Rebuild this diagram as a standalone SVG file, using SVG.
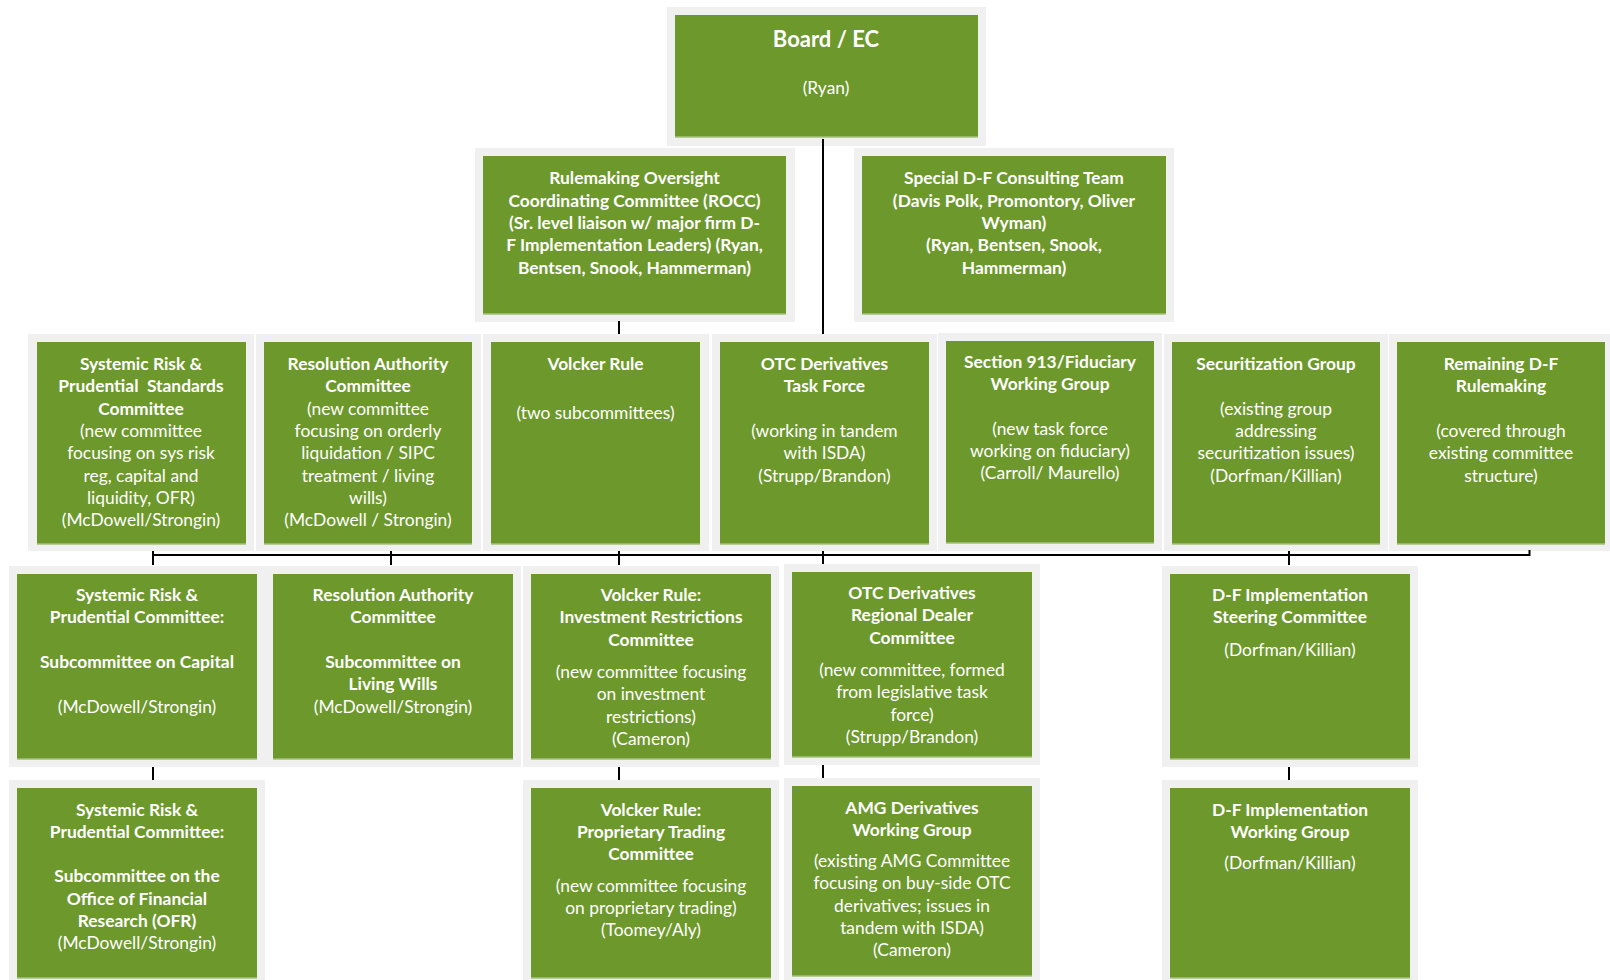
<svg xmlns="http://www.w3.org/2000/svg" width="1610" height="980" viewBox="0 0 1610 980">
<style>
.bg{fill:#f0f0f0}
.box{fill:#6d982c}
.edge{stroke:#a4c27a;stroke-width:1.5}
text{fill:#ffffff;font-family:Lato,"Open Sans","Liberation Sans",sans-serif;font-size:17.4px;text-anchor:middle}
.b{font-weight:bold}
.t{font-size:22px;font-weight:bold}
.c{stroke:#000000;stroke-width:2;fill:none}
</style>
<rect width="1610" height="980" fill="#ffffff"/>

<g id="board">
<rect class="bg" x="667" y="7" width="319" height="139"/>
<rect class="box" x="675" y="15" width="303" height="122"/>
<line class="edge" x1="675" y1="137" x2="978" y2="137"/>
<text class="t" x="826" y="47">Board / EC</text>
<text x="826" y="93.5">(Ryan)</text>
</g>

<g id="rocc">
<rect class="bg" x="475" y="148" width="320" height="174"/>
<rect class="box" x="483" y="156" width="303" height="158"/>
<line class="edge" x1="483" y1="314" x2="786" y2="314"/>
<text class="b" x="634.5" y="184">Rulemaking Oversight</text>
<text class="b" x="634.5" y="206.5">Coordinating Committee (ROCC)</text>
<text class="b" x="634.5" y="229">(Sr. level liaison w/ major firm D-</text>
<text class="b" x="634.5" y="251">F Implementation Leaders) (Ryan,</text>
<text class="b" x="634.5" y="273.5">Bentsen, Snook, Hammerman)</text>
</g>

<g id="special">
<rect class="bg" x="854" y="148" width="320" height="174"/>
<rect class="box" x="862" y="156" width="304" height="158"/>
<line class="edge" x1="862" y1="314" x2="1166" y2="314"/>
<text class="b" x="1014" y="184">Special D-F Consulting Team</text>
<text class="b" x="1014" y="206.5">(Davis Polk, Promontory, Oliver</text>
<text class="b" x="1014" y="229">Wyman)</text>
<text class="b" x="1014" y="251">(Ryan, Bentsen, Snook,</text>
<text class="b" x="1014" y="273.5">Hammerman)</text>
</g>

<g id="systemic">
<rect class="bg" x="28" y="334" width="226" height="217"/>
<rect class="box" x="37" y="342" width="209" height="202"/>
<line class="edge" x1="37" y1="544" x2="246" y2="544"/>
<text class="b" x="141" y="370">Systemic Risk &amp;</text>
<text class="b" x="141" y="392.3" xml:space="preserve">Prudential  Standards</text>
<text class="b" x="141" y="414.6">Committee</text>
<text x="141" y="436.9">(new committee</text>
<text x="141" y="459.2">focusing on sys risk</text>
<text x="141" y="481.5">reg, capital and</text>
<text x="141" y="503.8">liquidity, OFR)</text>
<text x="141" y="526.1">(McDowell/Strongin)</text>
</g>

<g id="resolution">
<rect class="bg" x="256" y="334" width="225" height="217"/>
<rect class="box" x="264" y="342" width="208" height="202"/>
<line class="edge" x1="264" y1="544" x2="472" y2="544"/>
<text class="b" x="368" y="370">Resolution Authority</text>
<text class="b" x="368" y="392.3">Committee</text>
<text x="368" y="414.6">(new committee</text>
<text x="368" y="436.9">focusing on orderly</text>
<text x="368" y="459.2">liquidation / SIPC</text>
<text x="368" y="481.5">treatment / living</text>
<text x="368" y="503.8">wills)</text>
<text x="368" y="526.1">(McDowell / Strongin)</text>
</g>

<g id="volcker">
<rect class="bg" x="483" y="334" width="226" height="217"/>
<rect class="box" x="491" y="342" width="209" height="202"/>
<line class="edge" x1="491" y1="544" x2="700" y2="544"/>
<text class="b" x="595.5" y="370">Volcker Rule</text>
<text x="595.5" y="419.3">(two subcommittees)</text>
</g>

<g id="otc">
<rect class="bg" x="712" y="334" width="225" height="217"/>
<rect class="box" x="720" y="342" width="209" height="202"/>
<line class="edge" x1="720" y1="544" x2="929" y2="544"/>
<text class="b" x="824.5" y="370">OTC Derivatives</text>
<text class="b" x="824.5" y="392.3">Task Force</text>
<text x="824.5" y="436.9">(working in tandem</text>
<text x="824.5" y="459.2">with ISDA)</text>
<text x="824.5" y="481.5">(Strupp/Brandon)</text>
</g>

<g id="section913">
<rect class="bg" x="938" y="333" width="224" height="218"/>
<rect class="box" x="946" y="341" width="208" height="202"/>
<line class="edge" x1="946" y1="543" x2="1154" y2="543"/>
<text class="b" x="1050" y="367.9">Section 913/Fiduciary</text>
<text class="b" x="1050" y="390.2">Working Group</text>
<text x="1050" y="434.5">(new task force</text>
<text x="1050" y="456.8">working on fiduciary)</text>
<text x="1050" y="479.1">(Carroll/ Maurello)</text>
</g>

<g id="securitization">
<rect class="bg" x="1164" y="334" width="224" height="217"/>
<rect class="box" x="1172" y="342" width="208" height="202"/>
<line class="edge" x1="1172" y1="544" x2="1380" y2="544"/>
<text class="b" x="1276" y="370">Securitization Group</text>
<text x="1276" y="414.6">(existing group</text>
<text x="1276" y="436.9">addressing</text>
<text x="1276" y="459.2">securitization issues)</text>
<text x="1276" y="481.5">(Dorfman/Killian)</text>
</g>

<g id="remaining">
<rect class="bg" x="1389" y="334" width="221" height="217"/>
<rect class="box" x="1397" y="342" width="208" height="202"/>
<line class="edge" x1="1397" y1="544" x2="1605" y2="544"/>
<text class="b" x="1501" y="370">Remaining D-F</text>
<text class="b" x="1501" y="392.3">Rulemaking</text>
<text x="1501" y="436.9">(covered through</text>
<text x="1501" y="459.2">existing committee</text>
<text x="1501" y="481.5">structure)</text>
</g>

<g id="systemic-capital">
<rect class="bg" x="9" y="566" width="256" height="201"/>
<rect class="box" x="17" y="574" width="240" height="185"/>
<line class="edge" x1="17" y1="759" x2="257" y2="759"/>
<text class="b" x="137" y="601">Systemic Risk &amp;</text>
<text class="b" x="137" y="623.3">Prudential Committee:</text>
<text class="b" x="137" y="667.9">Subcommittee on Capital</text>
<text x="137" y="712.5">(McDowell/Strongin)</text>
</g>

<g id="resolution-living-wills">
<rect class="bg" x="265" y="566" width="256" height="201"/>
<rect class="box" x="273" y="574" width="240" height="185"/>
<line class="edge" x1="273" y1="759" x2="513" y2="759"/>
<text class="b" x="393" y="601">Resolution Authority</text>
<text class="b" x="393" y="623.3">Committee</text>
<text class="b" x="393" y="667.9">Subcommittee on</text>
<text class="b" x="393" y="690.2">Living Wills</text>
<text x="393" y="712.5">(McDowell/Strongin)</text>
</g>

<g id="volcker-investment">
<rect class="bg" x="523" y="566" width="256" height="201"/>
<rect class="box" x="531" y="574" width="240" height="185"/>
<line class="edge" x1="531" y1="759" x2="771" y2="759"/>
<text class="b" x="651" y="601">Volcker Rule:</text>
<text class="b" x="651" y="623.3">Investment Restrictions</text>
<text class="b" x="651" y="645.6">Committee</text>
<text x="651" y="678">(new committee focusing</text>
<text x="651" y="700.3">on investment</text>
<text x="651" y="722.6">restrictions)</text>
<text x="651" y="744.9">(Cameron)</text>
</g>

<g id="otc-regional">
<rect class="bg" x="784" y="564" width="256" height="201"/>
<rect class="box" x="792" y="572" width="240" height="185"/>
<line class="edge" x1="792" y1="757" x2="1032" y2="757"/>
<text class="b" x="912" y="599">OTC Derivatives</text>
<text class="b" x="912" y="621.3">Regional Dealer</text>
<text class="b" x="912" y="643.6">Committee</text>
<text x="912" y="676">(new committee, formed</text>
<text x="912" y="698.3">from legislative task</text>
<text x="912" y="720.6">force)</text>
<text x="912" y="742.9">(Strupp/Brandon)</text>
</g>

<g id="df-steering">
<rect class="bg" x="1162" y="566" width="256" height="201"/>
<rect class="box" x="1170" y="574" width="240" height="185"/>
<line class="edge" x1="1170" y1="759" x2="1410" y2="759"/>
<text class="b" x="1290" y="601">D-F Implementation</text>
<text class="b" x="1290" y="623.3">Steering Committee</text>
<text x="1290" y="655.5">(Dorfman/Killian)</text>
</g>

<g id="systemic-ofr">
<rect class="bg" x="9" y="780" width="256" height="200"/>
<rect class="box" x="17" y="788" width="240" height="190"/>
<line class="edge" x1="17" y1="978" x2="257" y2="978"/>
<text class="b" x="137" y="815.5">Systemic Risk &amp;</text>
<text class="b" x="137" y="837.8">Prudential Committee:</text>
<text class="b" x="137" y="882.4">Subcommittee on the</text>
<text class="b" x="137" y="904.7">Office of Financial</text>
<text class="b" x="137" y="927">Research (OFR)</text>
<text x="137" y="949.3">(McDowell/Strongin)</text>
</g>

<g id="volcker-proprietary">
<rect class="bg" x="523" y="780" width="256" height="200"/>
<rect class="box" x="531" y="788" width="240" height="190"/>
<line class="edge" x1="531" y1="978" x2="771" y2="978"/>
<text class="b" x="651" y="815.5">Volcker Rule:</text>
<text class="b" x="651" y="837.8">Proprietary Trading</text>
<text class="b" x="651" y="860.1">Committee</text>
<text x="651" y="891.5">(new committee focusing</text>
<text x="651" y="913.8">on proprietary trading)</text>
<text x="651" y="936.1">(Toomey/Aly)</text>
</g>

<g id="amg">
<rect class="bg" x="784" y="778" width="256" height="202"/>
<rect class="box" x="792" y="786" width="240" height="190"/>
<line class="edge" x1="792" y1="976" x2="1032" y2="976"/>
<text class="b" x="912" y="813.5">AMG Derivatives</text>
<text class="b" x="912" y="835.8">Working Group</text>
<text x="912" y="867">(existing AMG Committee</text>
<text x="912" y="889.3">focusing on buy-side OTC</text>
<text x="912" y="911.6">derivatives; issues in</text>
<text x="912" y="933.9">tandem with ISDA)</text>
<text x="912" y="956.2">(Cameron)</text>
</g>

<g id="df-working">
<rect class="bg" x="1162" y="780" width="256" height="200"/>
<rect class="box" x="1170" y="788" width="240" height="190"/>
<line class="edge" x1="1170" y1="978" x2="1410" y2="978"/>
<text class="b" x="1290" y="815.5">D-F Implementation</text>
<text class="b" x="1290" y="837.8">Working Group</text>
<text x="1290" y="869">(Dorfman/Killian)</text>
</g>

<g id="connectors">
<line class="c" x1="823" y1="139" x2="823" y2="334"/>
<line class="c" x1="619" y1="321" x2="619" y2="334"/>
<line class="c" x1="152.5" y1="555" x2="1529.5" y2="555"/>
<line class="c" x1="1529.5" y1="550" x2="1529.5" y2="556"/>
<line class="c" x1="153" y1="551" x2="153" y2="565"/>
<line class="c" x1="391" y1="551" x2="391" y2="565"/>
<line class="c" x1="619" y1="551" x2="619" y2="565"/>
<line class="c" x1="823" y1="551" x2="823" y2="564"/>
<line class="c" x1="1289" y1="551" x2="1289" y2="565"/>
<line class="c" x1="153" y1="767" x2="153" y2="780"/>
<line class="c" x1="619" y1="767" x2="619" y2="780"/>
<line class="c" x1="823" y1="765" x2="823" y2="778"/>
<line class="c" x1="1289" y1="767" x2="1289" y2="780"/>
</g>
</svg>
